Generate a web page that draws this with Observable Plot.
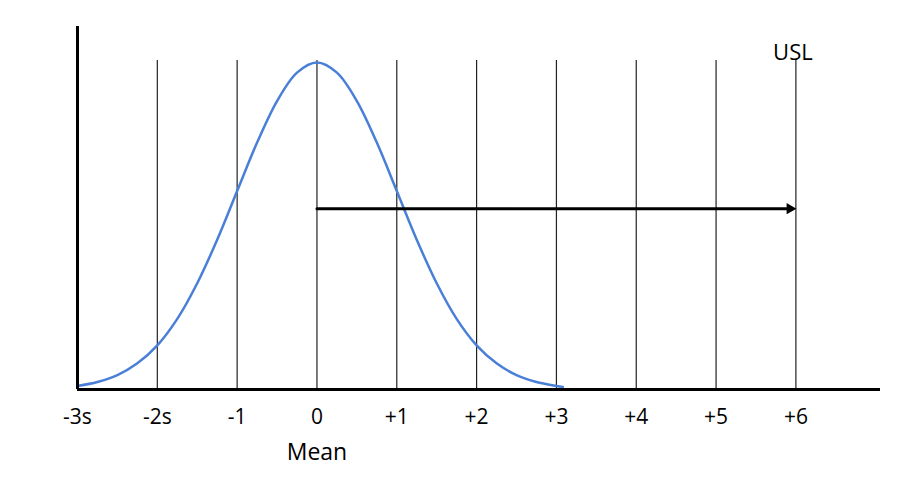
<!DOCTYPE html>
<html>
<head>
<meta charset="utf-8">
<script src="https://cdn.jsdelivr.net/npm/d3@7"></script>
<script src="https://cdn.jsdelivr.net/npm/@observablehq/plot@0.6"></script>
<style>
  html, body { margin: 0; padding: 0; background: #fff; }
  #chart { width: 920px; height: 500px; }
</style>
</head>
<body>
<div id="chart"></div>
<script>
// Tick positions (in sigma units) and their labels
const xTicks = [-3, -2, -1, 0, 1, 2, 3, 4, 5, 6];
const tickLabels = ["-3s", "-2s", "-1", "0", "+1", "+2", "+3", "+4", "+5", "+6"];

// Vertical grid lines
const gridX = [-2, -1, 0, 1, 2, 3, 4, 5, 6];
const gridTop = 1.006;

// Bell curve (relative height, peak = 1)
const curveX = [-3, -2.75, -2.5, -2.25, -2, -1.75, -1.5, -1.25, -1, -0.75, -0.5, -0.25, 0,
                0.25, 0.5, 0.75, 1, 1.25, 1.5, 1.75, 2, 2.25, 2.5, 2.75, 3, 3.08];
const curveY = [0.011, 0.023, 0.044, 0.080, 0.135, 0.216, 0.325, 0.458, 0.607, 0.755, 0.882, 0.969, 1,
                0.969, 0.882, 0.755, 0.607, 0.458, 0.325, 0.216, 0.135, 0.080, 0.044, 0.023, 0.011, 0.008];

// Arrow from mean to USL
const arrowStart = 0;
const arrowEnd = 6;
const arrowLevel = 0.553;

// Annotations
const uslLabel = "USL";
const uslX = 6;
const uslY = 1.028;
const meanLabel = "Mean";

const curve = curveX.map((x, i) => ({x, y: curveY[i]}));
const ticks = xTicks.map((x, i) => ({x, label: tickLabels[i]}));

const chart = Plot.plot({
  width: 920,
  height: 500,
  marginLeft: 77,
  marginRight: 40,
  marginTop: 26,
  marginBottom: 111,
  style: {fontFamily: "'Open Sans', sans-serif", background: "#fff", color: "#000"},
  x: {domain: [-3, 7.06], axis: null},
  y: {domain: [0, 1.11], axis: null},
  marks: [
    Plot.ruleX(gridX, {y1: 0, y2: gridTop, stroke: "#222", strokeWidth: 1.2}),
    Plot.line(curve, {x: "x", y: "y", stroke: "#4a7fd8", strokeWidth: 2.5, curve: "catmull-rom"}),
    Plot.arrow([{a: arrowStart, b: arrowEnd, l: arrowLevel}], {
      x1: "a", x2: "b", y1: "l", y2: "l",
      stroke: "#000", strokeWidth: 3, headLength: 0, insetEnd: 8
    }),
    Plot.dot([{x: arrowEnd, y: arrowLevel}], {
      x: "x", y: "y", symbol: "triangle", rotate: 90, r: 4.2, dx: -6,
      fill: "#000", stroke: "none"
    }),
    Plot.ruleY([0], {stroke: "#000", strokeWidth: 3}),
    Plot.ruleX([-3], {y1: 0, y2: 1.11, stroke: "#000", strokeWidth: 3}),
    Plot.text(ticks, {x: "x", y: () => 0, text: "label", dy: 28, fontSize: 21, fill: "#000"}),
    Plot.text([meanLabel], {x: () => 0, y: () => 0, text: d => d, dy: 63, fontSize: 23, fill: "#000"}),
    Plot.text([uslLabel], {x: () => uslX, y: () => uslY, text: d => d, dx: -3, fontSize: 22, fill: "#000"})
  ]
});
document.getElementById("chart").append(chart);
</script>
</body>
</html>
